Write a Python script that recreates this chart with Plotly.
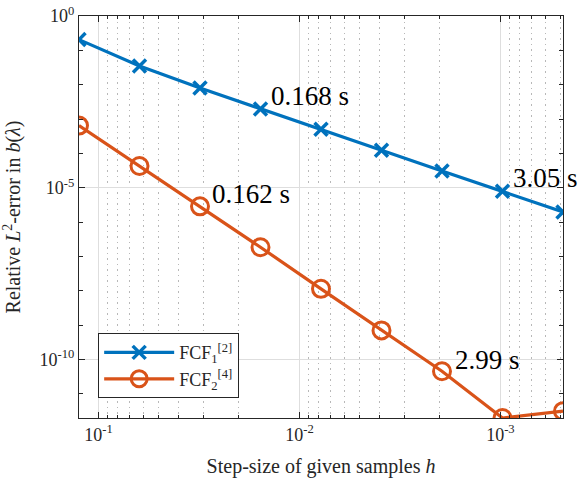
import numpy as np
import plotly.graph_objects as go

h = [1/8, 1/16, 1/32, 1/64, 1/128, 1/256, 1/512, 1/1024, 1/2048]
err_fcf1 = [10**-0.687, 10**-1.456, 10**-2.096, 10**-2.707, 10**-3.298,
            10**-3.91, 10**-4.51, 10**-5.10, 10**-5.706]
err_fcf2 = [10**-3.19, 10**-4.367, 10**-5.54, 10**-6.73, 10**-7.94,
            10**-9.15, 10**-10.34, 10**-11.70, 10**-11.50]

ann_text = ["0.168 s", "0.162 s", "3.05 s", "2.99 s"]
ann_x = [10**-1.850, 10**-1.557, 10**-3.052, 10**-2.763]
ann_y = [10**-2.34, 10**-5.19, 10**-4.725, 10**-10.02]

x_major = [1e-1, 1e-2, 1e-3]
x_major_text = ["10<sup>-1</sup>", "10<sup>-2</sup>", "10<sup>-3</sup>"]
y_major = [1e0, 1e-5, 1e-10]
y_major_text = ["10<sup>0</sup>", "10<sup>-5</sup>", "10<sup>-10</sup>"]

x_minor = [m * 10**e for e in (-2, -3, -4) for m in range(2, 10)]
y_minor = [10.0**e for e in range(-11, 0) if e not in (-5, -10)]

BLUE = "#0072BD"
ORANGE = "#D95319"
TXT = "#262626"
FONT = "Liberation Serif"

fig = go.Figure()
fig.add_trace(go.Scatter(
    x=h, y=err_fcf1, mode="lines+markers",
    name="FCF<sub>1</sub><sup>[2]</sup>",
    line=dict(color=BLUE, width=3.2),
    marker=dict(symbol="x-thin", size=13, line=dict(color=BLUE, width=3.5)),
))
fig.add_trace(go.Scatter(
    x=h, y=err_fcf2, mode="lines+markers",
    name="FCF<sub>2</sub><sup>[4]</sup>",
    line=dict(color=ORANGE, width=3.2),
    marker=dict(symbol="circle-open", size=17, line=dict(color=ORANGE, width=3)),
))

for t, xa, ya in zip(ann_text, ann_x, ann_y):
    fig.add_annotation(x=np.log10(xa), y=np.log10(ya), text=t, showarrow=False,
                       xanchor="left", yanchor="middle",
                       font=dict(family=FONT, size=27, color="black"))

fig.update_layout(
    width=578, height=485,
    margin=dict(l=78.5, r=15, t=16, b=67, autoexpand=False),
    paper_bgcolor="white", plot_bgcolor="white",
    font=dict(family=FONT, size=17, color=TXT),
    showlegend=True,
    legend=dict(x=0.0396, y=0.211, xanchor="left", yanchor="top",
                bordercolor=TXT, borderwidth=1, bgcolor="white",
                font=dict(family=FONT, size=18, color=TXT),
                itemwidth=70, tracegroupgap=0),
)
fig.update_xaxes(
    type="log", range=[np.log10(h[0]), np.log10(h[-1])], automargin=False,
    tickmode="array", tickvals=x_major, ticktext=x_major_text,
    ticks="inside", ticklen=6, tickcolor=TXT, tickwidth=1,
    showline=True, linecolor=TXT, linewidth=1.2, mirror="ticks",
    showgrid=True, gridcolor="#DEDEDE", gridwidth=1,
    zeroline=False,
    tickfont=dict(family=FONT, size=18, color=TXT),
    title=dict(text="Step-size of given samples <i>h</i>",
               font=dict(family=FONT, size=20, color=TXT)),
    minor=dict(tickmode="array", tickvals=x_minor, ticks="inside", ticklen=3,
               tickcolor=TXT, showgrid=True, gridcolor="#B8B8B8",
               griddash="1.5px,4px", gridwidth=1),
)
fig.update_yaxes(
    type="log", range=[np.log10(min(err_fcf2)), 0], automargin=False,
    tickmode="array", tickvals=y_major, ticktext=y_major_text,
    ticks="inside", ticklen=6, tickcolor=TXT, tickwidth=1,
    showline=True, linecolor=TXT, linewidth=1.2, mirror="ticks",
    showgrid=True, gridcolor="#DEDEDE", gridwidth=1,
    zeroline=False,
    tickfont=dict(family=FONT, size=18, color=TXT),
    title=dict(text="Relative <i>L</i><sup>2</sup>-error in <i>b</i>(<i>λ</i>)",
               font=dict(family=FONT, size=20, color=TXT)),
    minor=dict(tickmode="array", tickvals=y_minor, ticks="inside", ticklen=4,
               tickcolor=TXT, showgrid=False),
)

fig.write_html("out.html", config={"displayModeBar": False},
               post_script="document.body.style.margin='0';document.body.style.padding='0';")
